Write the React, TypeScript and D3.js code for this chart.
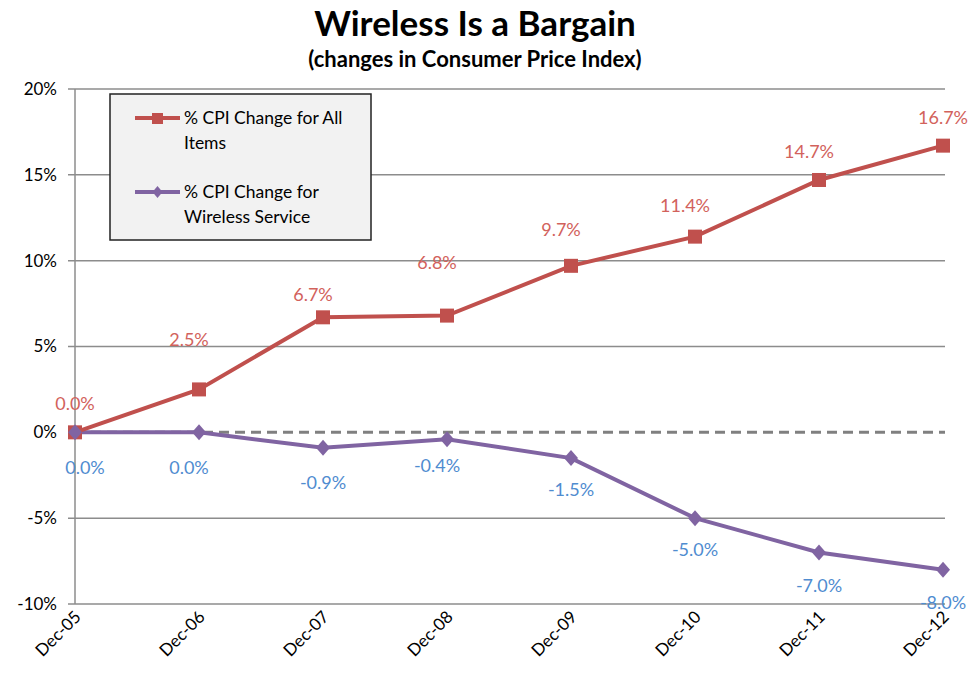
import React, { useEffect, useRef } from 'react';
import * as d3 from 'd3';

const categories = ['Dec-05', 'Dec-06', 'Dec-07', 'Dec-08', 'Dec-09', 'Dec-10', 'Dec-11', 'Dec-12'];
const allItems = [0.0, 2.5, 6.7, 6.8, 9.7, 11.4, 14.7, 16.7];
const wireless = [0.0, 0.0, -0.9, -0.4, -1.5, -5.0, -7.0, -8.0];
const yTicks = [-10, -5, 0, 5, 10, 15, 20];
const seriesNames = ['% CPI Change for All|Items', '% CPI Change for|Wireless Service'];

// label nudges (px above / below the point), as moved by hand in the original
const allLabelDy = [29, 50, 23, 53, 36, 31, 28, 28];
const wirelessLabelDy = [35, 35, 35, 26, 32, 32, 33, 33];

const RED = '#c0504d';
const PURPLE = '#8064a2';
const RED_TEXT = '#d2625c';
const BLUE_TEXT = '#4f8cd0';
const FONT = 'Lato, "Open Sans", sans-serif';

export default function App() {
  const ref = useRef<SVGSVGElement>(null);

  useEffect(() => {
    const svg = d3.select(ref.current);
    svg.selectAll('*').remove();

    const left = 75, right = 943, top = 89, bottom = 604;

    const x = d3.scalePoint<string>().domain(categories).range([left, right]);
    const y = d3.scaleLinear().domain([-10, 20]).range([bottom, top]);

    // title
    svg.append('text')
      .attr('x', 475).attr('y', 36)
      .attr('text-anchor', 'middle')
      .style('font', `bold 35px ${FONT}`)
      .text('Wireless Is a Bargain');
    svg.append('text')
      .attr('x', 475).attr('y', 67)
      .attr('text-anchor', 'middle')
      .style('font', `bold 22px ${FONT}`)
      .text('(changes in Consumer Price Index)');

    // gridlines
    svg.append('g')
      .selectAll('line')
      .data(yTicks.filter(t => t !== 0))
      .enter()
      .append('line')
      .attr('x1', left - 7).attr('x2', 945)
      .attr('y1', d => y(d)).attr('y2', d => y(d))
      .attr('stroke', '#8c8c8c').attr('stroke-width', 1.5);

    // y axis
    svg.append('line')
      .attr('x1', left).attr('x2', left)
      .attr('y1', top).attr('y2', bottom)
      .attr('stroke', '#8c8c8c').attr('stroke-width', 1.5);
    svg.append('line')
      .attr('x1', left - 7).attr('x2', left)
      .attr('y1', y(0)).attr('y2', y(0))
      .attr('stroke', '#8c8c8c').attr('stroke-width', 1.5);

    svg.append('g')
      .selectAll('text')
      .data(yTicks)
      .enter()
      .append('text')
      .attr('x', left - 18)
      .attr('y', d => y(d))
      .attr('dy', '0.35em')
      .attr('text-anchor', 'end')
      .style('font', `17px ${FONT}`)
      .text(d => d + '%');

    // dashed zero line
    svg.append('line')
      .attr('x1', left).attr('x2', 945)
      .attr('y1', y(0)).attr('y2', y(0))
      .attr('stroke', '#808080').attr('stroke-width', 3)
      .attr('stroke-dasharray', '10,6');

    // x labels
    svg.append('g')
      .selectAll('text')
      .data(categories)
      .enter()
      .append('text')
      .attr('transform', d => `translate(${x(d)! + 7},${bottom + 14}) rotate(-45)`)
      .attr('text-anchor', 'end')
      .style('font', `17px ${FONT}`)
      .text(d => d);

    const line = d3.line<number>()
      .x((_, i) => x(categories[i])!)
      .y(d => y(d));

    // wireless series
    svg.append('path')
      .datum(wireless)
      .attr('d', line)
      .attr('fill', 'none')
      .attr('stroke', PURPLE).attr('stroke-width', 4);

    // all items series
    svg.append('path')
      .datum(allItems)
      .attr('d', line)
      .attr('fill', 'none')
      .attr('stroke', RED).attr('stroke-width', 4);

    svg.append('g')
      .selectAll('rect')
      .data(allItems)
      .enter()
      .append('rect')
      .attr('x', (_, i) => x(categories[i])! - 7)
      .attr('y', d => y(d) - 7)
      .attr('width', 14).attr('height', 14)
      .attr('fill', RED);

    const diamond = 'M0,-8L7,0L0,8L-7,0Z';
    svg.append('g')
      .selectAll('path')
      .data(wireless)
      .enter()
      .append('path')
      .attr('d', diamond)
      .attr('transform', (d, i) => `translate(${x(categories[i])},${y(d)})`)
      .attr('fill', PURPLE);

    // data labels
    svg.append('g')
      .selectAll('text')
      .data(allItems)
      .enter()
      .append('text')
      .attr('x', (_, i) => x(categories[i])! - (i === 0 || i === 7 ? 0 : 10))
      .attr('y', (d, i) => y(d) - allLabelDy[i])
      .attr('dy', '0.35em')
      .attr('text-anchor', 'middle')
      .attr('fill', RED_TEXT)
      .style('font', `18px ${FONT}`)
      .text(d => d.toFixed(1) + '%');

    svg.append('g')
      .selectAll('text')
      .data(wireless)
      .enter()
      .append('text')
      .attr('x', (_, i) => x(categories[i])! + (i === 0 ? 10 : i === 1 || i === 3 ? -10 : 0))
      .attr('y', (d, i) => y(d) + wirelessLabelDy[i])
      .attr('dy', '0.35em')
      .attr('text-anchor', 'middle')
      .attr('fill', BLUE_TEXT)
      .style('font', `18px ${FONT}`)
      .text(d => d.toFixed(1) + '%');

    // legend
    const legend = svg.append('g').attr('transform', 'translate(110,94)');
    legend.append('rect')
      .attr('width', 261).attr('height', 146)
      .attr('fill', '#f2f2f2')
      .attr('stroke', '#222').attr('stroke-width', 1.5);

    const colors = [RED, PURPLE];
    seriesNames.forEach((name, i) => {
      const ly = 24 + i * 74;
      legend.append('line')
        .attr('x1', 25).attr('x2', 70)
        .attr('y1', ly).attr('y2', ly)
        .attr('stroke', colors[i]).attr('stroke-width', 4);
      if (i === 0) {
        legend.append('rect')
          .attr('x', 42).attr('y', ly - 5)
          .attr('width', 11).attr('height', 11)
          .attr('fill', RED);
      } else {
        legend.append('path')
          .attr('d', 'M0,-6L5,0L0,6L-5,0Z')
          .attr('transform', `translate(47.5,${ly})`)
          .attr('fill', PURPLE);
      }
      name.split('|').forEach((part, j) => {
        legend.append('text')
          .attr('x', 74)
          .attr('y', ly + j * 25)
          .attr('dy', '0.35em')
          .style('font', `17.5px ${FONT}`)
          .text(part);
      });
    });
  }, []);

  return (
    <svg
      ref={ref}
      width={974}
      height={681}
      style={{ position: 'absolute', left: 0, top: 0, background: '#fff' }}
    />
  );
}
